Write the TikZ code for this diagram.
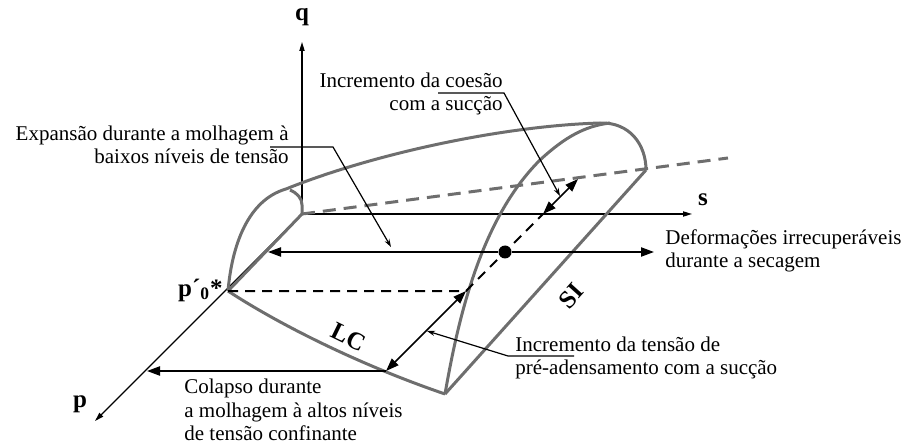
\documentclass[tikz,border=0pt]{standalone}
\usepackage{fontspec}
\setmainfont{Liberation Serif}
\usetikzlibrary{arrows.meta}
\definecolor{surfgray}{HTML}{6E6E6E}

\begin{document}
\begin{tikzpicture}[x=0.5pt, y=-0.5pt,
    surf/.style={draw=surfgray, line width=1.5pt, line join=round},
    axis/.style={draw=black, line width=0.65pt, -{Triangle[length=4.5pt,width=2.6pt]}},
    bigarrow/.style={draw=black, line width=0.8pt, -{Triangle[length=6.5pt,width=4.6pt]}},
    dblarrow/.style={draw=black, line width=0.8pt, {Triangle[length=6.5pt,width=4.6pt]}-{Triangle[length=6.5pt,width=4.6pt]}},
    leader/.style={draw=black, line width=0.6pt, -{Stealth[length=4pt,width=2.6pt]}},
    axlabel/.style={font=\fontsize{12.5}{14}\selectfont\bfseries, inner sep=0pt},
    note/.style={font=\fontsize{10.5}{11.6}\selectfont, inner sep=0pt}]
  \useasboundingbox (0,0) rectangle (908,448);

  % axes and points of the surface
  \coordinate (O) at (302,214);
  \coordinate (qtip) at (302,42);
  \coordinate (stip) at (692,214);
  \coordinate (ptip) at (95,421);
  \coordinate (p0) at (228,291);
  \coordinate (sfar) at (728,158);
  \coordinate (send) at (646,170);
  \coordinate (rise) at (286,189);
  \coordinate (crown) at (600,123);
  \coordinate (B) at (445,394);
  \coordinate (C) at (386,371);
  \coordinate (A) at (466,291);
  \coordinate (dot) at (505,252);
  \coordinate (coh1) at (543,214);
  \coordinate (coh2) at (578,179);
  \coordinate (cohmid) at (560,196);
  \coordinate (premid) at (427,331);
  \coordinate (expL) at (268,252);
  \coordinate (defR) at (654,252);
  \coordinate (colL) at (147,371);

  \draw[axis] (O) -- (qtip);
  \draw[axis] (O) -- (stip);
  \draw[axis] (O) -- (ptip);

  % yield surface
  \draw[surf, dash pattern=on 6.5pt off 4pt] (O) -- (sfar);
  \draw[surf] (O) -- (p0);
  \draw[surf] (p0) .. controls (232,245) and (248,200) .. (rise)
    .. controls (370,155) and (500,126) .. (crown)
    .. controls (630,122) and (646,145) .. (send);
  \draw[surf] (290,190) .. controls (297,193) and (302,198) .. (302,205) -- (O);
  \draw[surf] (p0) .. controls (280,325) and (360,365) .. (B);
  \draw[surf] (B) .. controls (458,320) and (480,220) .. (540,160)
    .. controls (565,137) and (585,126) .. (610,123);
  \draw[surf] (B) -- (send);

  % paths and increments
  \draw[black, line width=1pt, dash pattern=on 5pt off 3.5pt] (p0) -- (A) -- (coh1);
  \node[circle, fill=black, inner sep=0pt, minimum size=6.5pt] (dotn) at (dot) {};
  \draw[bigarrow] (dotn) -- (expL);
  \draw[bigarrow] (dotn) -- (defR);
  \draw[bigarrow] (C) -- (colL);
  \draw[dblarrow] (C) -- (A);
  \draw[dblarrow] (coh1) -- (coh2);

  % labels
  \node[axlabel] (qlab) at (302,17) {q};
  \node[axlabel] (slab) at (703,200) {s};
  \node[axlabel] (plab) at (80,404) {p};
  \node[axlabel, anchor=east] (p0lab) at (223,290) {p´\textsubscript{0}*};
  \node[axlabel, rotate=-26] (lclab) at (349,337) {LC};
  \node[axlabel, rotate=48] (silab) at (571,296) {SI};

  \node[note, align=right, anchor=east] (cohtxt) at (503,94) {Incremento da coesão\\com a sucção};
  \node[note, align=right, anchor=east] (exptxt) at (289,145) {Expansão durante a molhagem à\\baixos níveis de tensão};
  \node[note, align=left, anchor=west] (deftxt) at (665,251) {Deformações irrecuperáveis\\durante a secagem};
  \node[note, align=left, anchor=west] (pretxt) at (515,358) {Incremento da tensão de\\pré-adensamento com a sucção};
  \node[note, align=left, anchor=west] (coltxt) at (184,410) {Colapso durante\\a molhagem à altos níveis\\de tensão confinante};

  % leaders
  \draw[leader] (438,93) -- (504,93) -- (cohmid);
  \draw[leader] (270,147) -- (333,147) -- (391,247);
  \draw[leader] (574,356) -- (508,356) -- (premid);
\end{tikzpicture}
\end{document}
